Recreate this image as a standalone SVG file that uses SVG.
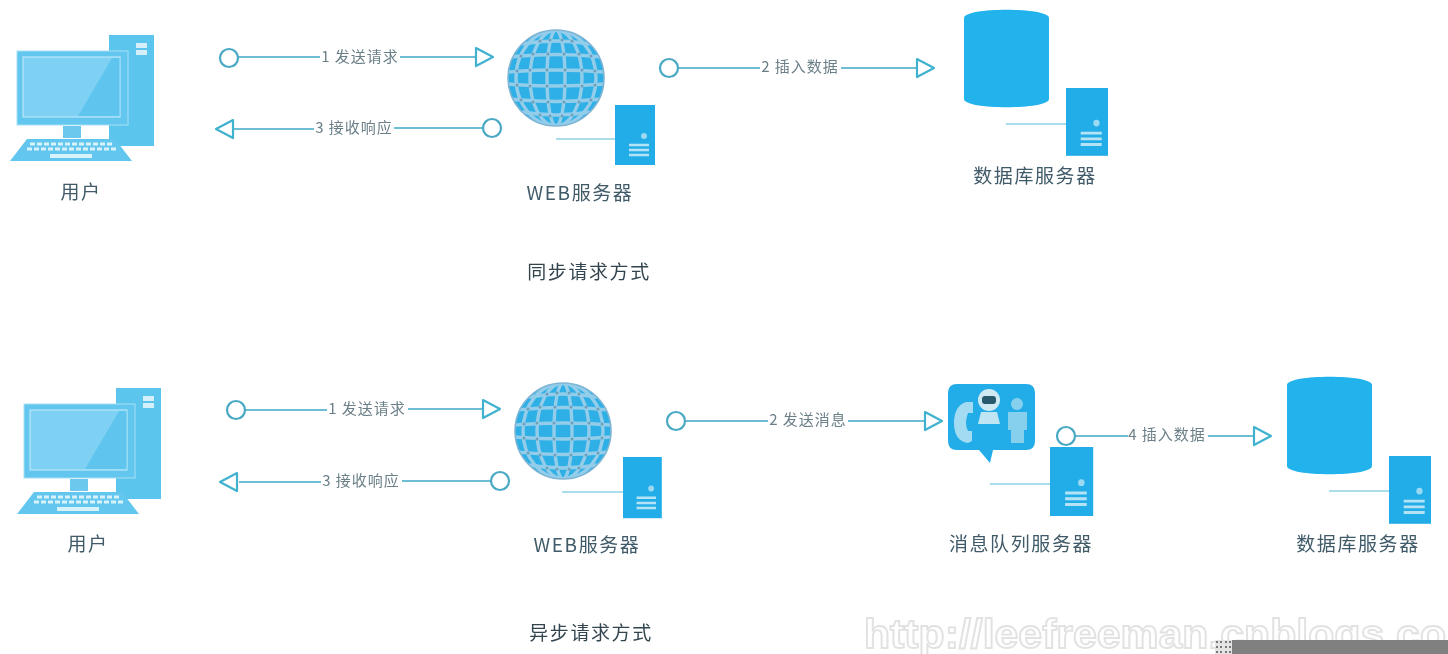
<svg xmlns="http://www.w3.org/2000/svg" width="1448" height="654" viewBox="0 0 1448 654">
<style>
.lbl{font-family:"Noto Sans CJK SC","Liberation Sans",sans-serif;font-size:19px;fill:#3f5a68;text-anchor:middle;letter-spacing:1.6px}
.cap{font-family:"Noto Sans CJK SC","Liberation Sans",sans-serif;font-size:19px;fill:#33444f;text-anchor:middle;letter-spacing:1.6px}
.edge{font-family:"Noto Sans CJK SC","Liberation Sans",sans-serif;font-size:15px;fill:#6b7f88;text-anchor:middle;letter-spacing:1px}
.ln{stroke:#3fa9c6;stroke-width:1.6;fill:none}
.dot{stroke:#4aa9c4;stroke-width:2.2;fill:#fff}
.tip{stroke:#3fb2cf;stroke-width:2.2;fill:#fff;stroke-linejoin:round}
.stub{stroke:#8fd3e6;stroke-width:1.6;fill:none}
.gl{stroke:#93cdea;stroke-width:3.4;fill:none}
.gd{stroke:#6f9fba;stroke-width:3;stroke-linecap:round;fill:none}
.wm{font-family:"Liberation Sans",sans-serif;font-size:40px;font-weight:700;fill:#fff;stroke:#e2e2e2;stroke-width:1.8}
</style>
<defs>
<filter id="soft" x="0" y="0" width="100%" height="100%"><feGaussianBlur stdDeviation="0.55"/></filter>
<symbol id="pc" overflow="visible">
<rect x="109" y="35" width="45" height="111" fill="#5cc5ee"/>
<rect x="136" y="43" width="11" height="5" fill="#d5f0fb"/><rect x="136" y="50" width="11" height="5" fill="#d5f0fb"/>
<rect x="17" y="51" width="111" height="74" fill="#62c6ee" stroke="#a8dff5" stroke-width="1"/>
<rect x="23" y="57" width="97" height="60" fill="#7fd1f3" stroke="#b9e6f8" stroke-width="1.2"/>
<path d="M112 58H119.500V116H78Z" fill="#5fc5ee"/>
<rect x="63" y="126" width="18" height="12" fill="#6cc8ec"/>
<path d="M27 139H115L132 161H10Z" fill="#62c6ee"/>
<path d="M30 144H112M27 149H116" stroke="#d8f2fb" stroke-width="3" stroke-dasharray="5 2"/>
<rect x="50" y="154" width="42" height="4" fill="#d8f2fb"/>
</symbol>
<clipPath id="gc"><circle cx="556" cy="78" r="48"/></clipPath>
<symbol id="globe" overflow="visible">
<circle cx="556" cy="78" r="48" fill="#2fb0e6"/>
<g clip-path="url(#gc)" class="gl">
<ellipse cx="556" cy="78" rx="9" ry="48"/><ellipse cx="556" cy="78" rx="26" ry="48"/><ellipse cx="556" cy="78" rx="40" ry="48"/>
<path d="M508 72Q556 68 604 72M508 84Q556 88 604 84M510 57Q556 52 602 57M510 99Q556 104 602 99M522 44Q556 38 590 44M522 112Q556 118 590 112"/>
</g>
<g class="gd">
<path d="M547 70h.01M565 70h.01M530 70h.01M582 70h.01M517 71h.01M595 71h.01M547 86h.01M565 86h.01M530 86h.01M582 86h.01M517 85h.01M595 85h.01M548 54h.01M564 54h.01M533 54h.01M579 54h.01M521 56h.01M591 56h.01M548 102h.01M564 102h.01M533 102h.01M579 102h.01M521 100h.01M591 100h.01M550 40h.01M562 40h.01M540 41h.01M572 41h.01M550 116h.01M562 116h.01M540 115h.01M572 115h.01"/>
</g>
<circle cx="556" cy="78" r="48" fill="none" stroke="#7fb5d4" stroke-width="1.6"/>
</symbol>
<symbol id="srv" overflow="visible">
<rect x="0" y="0" width="40" height="60" fill="#24ade8"/>
<circle cx="29" cy="31" r="3" fill="#9bd9f3"/>
<path d="M14 40H34M14 45H34M14 50H34" stroke="#b5e3f6" stroke-width="2.5"/>
</symbol>
<symbol id="db" overflow="visible">
<path d="M0 8C0 -3 85 -3 85 8V89C85 100 0 100 0 89Z" fill="#20b2ec"/>
</symbol>
</defs>
<rect width="1448" height="654" fill="#fff"/>
<g filter="url(#soft)">
<g id="connectors">
<g class="ln">
<path d="M238 57H320M400 57H476"/><path d="M232 129H314M394 128H484"/><path d="M679 68H760M841 68H917"/>
<path d="M245 410H327M408 409H483"/><path d="M239 482H321M402 481H491"/><path d="M686 421H768M848 421H925"/><path d="M1075 436H1128M1208 436H1254"/>
</g>
<g class="dot">
<circle cx="229" cy="58" r="9"/><circle cx="492" cy="128" r="9"/><circle cx="669" cy="68" r="9"/>
<circle cx="236" cy="410" r="9"/><circle cx="500" cy="481" r="9"/><circle cx="676" cy="421" r="9"/><circle cx="1066" cy="436" r="9"/>
</g>
<g class="tip">
<path d="M476 48L493 57L476 66Z"/><path d="M233 120L216 129L233 138Z"/><path d="M917 59L934 68L917 77Z"/>
<path d="M483 400L500 409L483 418Z"/><path d="M237 473L220 482L237 491Z"/><path d="M925 412L942 421L925 430Z"/><path d="M1254 427L1271 436L1254 445Z"/>
</g>
<text class="edge" x="360" y="62">1 发送请求</text>
<text class="edge" x="354" y="133">3 接收响应</text>
<text class="edge" x="800" y="72">2 插入数据</text>
<text class="edge" x="367" y="414">1 发送请求</text>
<text class="edge" x="361" y="486">3 接收响应</text>
<text class="edge" x="808" y="425">2 发送消息</text>
<text class="edge" x="1167" y="440">4 插入数据</text>
</g>

<g id="user1"><use href="#pc"/><text class="lbl" x="81" y="199">用户</text></g>
<g id="web1"><use href="#globe"/><path class="stub" d="M556 139H615"/><use href="#srv" x="615" y="105"/><text class="lbl" x="580" y="200">WEB服务器</text></g>
<g id="db1"><use href="#db" x="964" y="10"/><path class="stub" d="M1006 124H1066"/><use href="#srv" x="1066" y="88" transform="translate(1066 88) scale(1.05 1.13) translate(-1066 -88)"/><text class="lbl" x="1035" y="183">数据库服务器</text></g>
<text id="title1" class="cap" x="589" y="279">同步请求方式</text>

<g id="user2"><use href="#pc" x="7" y="353"/><text class="lbl" x="88" y="551">用户</text></g>
<g id="web2"><use href="#globe" x="7" y="353"/><path class="stub" d="M562 492H623"/><use href="#srv" x="623" y="457" transform="translate(623 457) scale(.97 1.02) translate(-623 -457)"/><text class="lbl" x="587" y="552">WEB服务器</text></g>
<g id="mq">
<path d="M957 384H1026Q1035 384 1035 393V441Q1035 450 1026 450H993L990 463L979 450H957Q948 450 948 441V393Q948 384 957 384Z" fill="#20ade8"/>
<path d="M966 402Q954 406 954 423Q954 441 968 443L972 441V431H968Q964 424 968 413H973V402Z" fill="#a3dbf2"/>
<circle cx="989" cy="400" r="11" fill="#cfe9f3"/><rect x="982" y="396" width="14" height="8" rx="3" fill="#255a6c"/>
<path d="M981 412H997L1000 424H978Z" fill="#bfe5f3"/>
<circle cx="1017" cy="404" r="6" fill="#86d0ee"/><path d="M1008 412H1027V430H1024V443H1011V430H1008Z" fill="#86d0ee"/>
<path class="stub" d="M990 484H1050"/><use href="#srv" x="1050" y="447" transform="translate(1050 447) scale(1.08 1.15) translate(-1050 -447)"/><text class="lbl" x="1021" y="551">消息队列服务器</text>
</g>
<g id="db2"><use href="#db" x="1287" y="377"/><path class="stub" d="M1329 491H1389"/><use href="#srv" x="1389" y="456" transform="translate(1389 456) scale(1.05 1.13) translate(-1389 -456)"/><text class="lbl" x="1358" y="551">数据库服务器</text></g>
<text id="title2" class="cap" x="591" y="640">异步请求方式</text>

<g id="watermark">
<text class="wm" x="864" y="648" textLength="582" lengthAdjust="spacingAndGlyphs">http://leefreeman.cnblogs.co</text>
<rect x="1215" y="640" width="17" height="14" fill="#e4e4e4"/>
<path d="M1216 642H1222M1225 642H1231M1216 647H1222M1225 647H1231M1216 652H1222M1225 652H1231" stroke="#777" stroke-width="2" stroke-dasharray="2 2"/>
<rect x="1232" y="640" width="216" height="14" fill="#808080"/>
</g>
</g>
</svg>
